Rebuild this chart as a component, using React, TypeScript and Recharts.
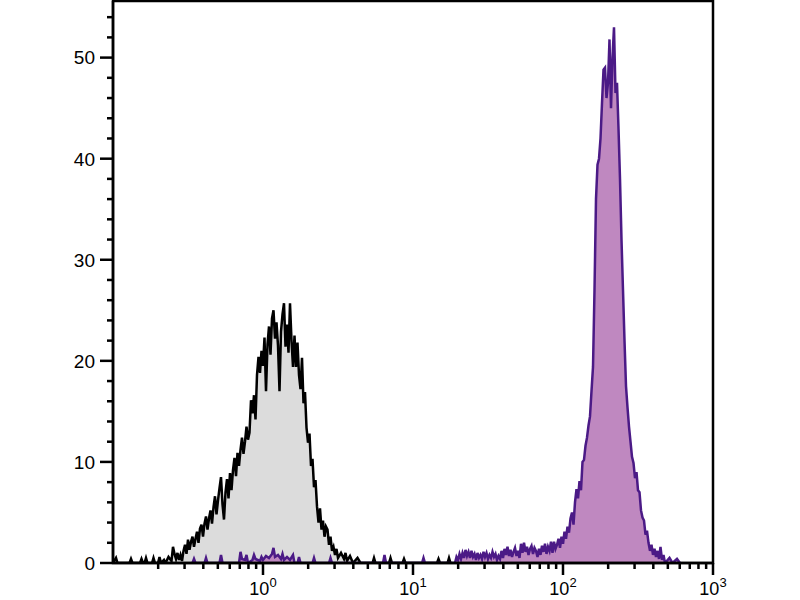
import React from 'react';
import { ComposedChart, Area, XAxis, YAxis, ReferenceArea } from 'recharts';

// gray (isotype control) histogram: log10 intensity and counts
const grayExp = [
  -1.0, -0.98, -0.97, -0.89, -0.88, -0.87, -0.82, -0.81, -0.8, -0.79,
  -0.78, -0.77, -0.74, -0.73, -0.72, -0.7, -0.69, -0.68, -0.66, -0.65,
  -0.63, -0.61, -0.6, -0.59, -0.58, -0.57, -0.56, -0.55, -0.54, -0.53,
  -0.52, -0.51, -0.5, -0.49, -0.48, -0.47, -0.46, -0.45, -0.44, -0.43,
  -0.42, -0.41, -0.4, -0.39, -0.38, -0.37, -0.36, -0.35, -0.34, -0.33,
  -0.32, -0.31, -0.3, -0.29, -0.28, -0.27, -0.26, -0.25, -0.24, -0.23,
  -0.22, -0.21, -0.2, -0.19, -0.18, -0.17, -0.16, -0.15, -0.14, -0.13,
  -0.12, -0.11, -0.1, -0.09, -0.08, -0.07, -0.06, -0.05, -0.04, -0.03,
  -0.02, -0.01, 0.0, 0.01, 0.02, 0.03, 0.04, 0.05, 0.06, 0.07,
  0.08, 0.09, 0.1, 0.11, 0.12, 0.13, 0.14, 0.15, 0.16, 0.17,
  0.18, 0.19, 0.2, 0.21, 0.22, 0.23, 0.24, 0.25, 0.26, 0.27,
  0.28, 0.29, 0.3, 0.31, 0.32, 0.33, 0.34, 0.35, 0.36, 0.37,
  0.38, 0.39, 0.4, 0.41, 0.42, 0.43, 0.44, 0.45, 0.46, 0.47,
  0.48, 0.49, 0.5, 0.52, 0.54, 0.55, 0.56, 0.58, 0.6, 0.63,
  0.65, 0.73, 0.74, 0.75, 0.84, 0.85, 0.86, 0.93, 0.94, 0.95,
  1.16, 1.17, 1.18, 1.23, 1.24, 1.25,
];
const grayCount = [
  0, 0.5, 0, 0, 0.4, 0, 0, 0.4, 0, 0,
  0.5, 0, 0, 0.5, 0, 0, 0.6, 0, 0.3, 0,
  0.6, 0.2, 1.6, 0.9, 0.4, 1.0, 0.3, 0.8, 0.2, 1.2,
  1.8, 0.9, 2.3, 1.3, 2.1, 2.6, 1.6, 2.4, 3.1, 2.0,
  3.4, 3.8, 2.6, 3.9, 4.6, 3.3, 4.4, 5.2, 3.9, 5.5,
  6.6, 4.8, 6.2, 7.4, 8.5, 5.8, 4.3, 7.0, 8.3, 6.4,
  8.9, 7.2, 9.2, 10.4, 8.6, 10.9, 9.6, 11.2, 12.4, 10.8,
  12.0, 13.5, 12.2, 12.9, 16.1, 14.8, 16.6, 14.2, 18.6, 20.4,
  18.8, 21.0, 19.5, 22.3, 17.0, 21.6, 23.4, 20.6, 24.2, 25.0,
  22.2, 23.8, 21.5, 17.0, 22.9, 24.6, 25.7, 21.4, 23.6, 20.8,
  25.7, 22.0, 19.4, 22.5, 19.4, 21.8, 18.6, 17.2, 20.3, 15.8,
  16.9, 13.4, 11.9, 12.8, 9.6, 10.3, 7.5, 8.2, 5.6, 4.0,
  5.4, 3.3, 4.2, 2.6, 3.6, 3.3, 1.8, 2.6, 1.2, 1.6,
  0.8, 1.4, 0.5, 1.0, 0.4, 1.0, 0.2, 0.7, 0, 0.5,
  0, 0, 0.5, 0, 0, 0.5, 0, 0, 0.4, 0,
  0, 0.4, 0, 0, 0.5, 0,
];

// purple (stained) histogram
const purpleExp = [
  -0.47, -0.46, -0.45, -0.39, -0.38, -0.37, -0.29, -0.28, -0.27, -0.16,
  -0.15, -0.14, -0.12, -0.11, -0.1, -0.07, -0.06, -0.05, -0.02, -0.01,
  0.0, 0.02, 0.04, 0.06, 0.07, 0.08, 0.1, 0.12, 0.13, 0.14,
  0.16, 0.18, 0.2, 0.21, 0.23, 0.24, 0.25, 0.26, 0.33, 0.34,
  0.35, 0.44, 0.45, 0.46, 0.8, 0.81, 0.82, 1.06, 1.07, 1.08,
  1.28, 1.29, 1.3, 1.31, 1.32, 1.33, 1.34, 1.35, 1.36, 1.37,
  1.38, 1.39, 1.4, 1.41, 1.42, 1.43, 1.44, 1.45, 1.46, 1.47,
  1.48, 1.49, 1.5, 1.51, 1.52, 1.53, 1.54, 1.55, 1.56, 1.57,
  1.58, 1.59, 1.6, 1.61, 1.62, 1.63, 1.64, 1.65, 1.66, 1.67,
  1.68, 1.69, 1.7, 1.71, 1.72, 1.73, 1.74, 1.75, 1.76, 1.77,
  1.78, 1.79, 1.8, 1.81, 1.82, 1.83, 1.84, 1.85, 1.86, 1.87,
  1.88, 1.89, 1.9, 1.91, 1.92, 1.93, 1.94, 1.95, 1.96, 1.97,
  1.98, 1.99, 2.0, 2.01, 2.02, 2.03, 2.04, 2.05, 2.06, 2.07,
  2.08, 2.09, 2.1, 2.11, 2.12, 2.13, 2.14, 2.15, 2.16, 2.17,
  2.18, 2.19, 2.2, 2.21, 2.22, 2.23, 2.24, 2.25, 2.26, 2.27,
  2.28, 2.29, 2.3, 2.31, 2.32, 2.33, 2.34, 2.35, 2.36, 2.37,
  2.38, 2.39, 2.4, 2.41, 2.42, 2.43, 2.44, 2.45, 2.46, 2.47,
  2.48, 2.49, 2.5, 2.51, 2.52, 2.53, 2.54, 2.55, 2.56, 2.57,
  2.58, 2.59, 2.6, 2.61, 2.62, 2.63, 2.64, 2.65, 2.66, 2.67,
  2.68, 2.71, 2.73, 2.76, 2.78,
];
const purpleCount = [
  0, 0.4, 0, 0, 0.5, 0, 0, 0.8, 0, 0,
  1.1, 0.4, 0.3, 0.8, 0, 0.3, 0.8, 0.4, 0.2, 0.6,
  0.3, 0.7, 0.5, 0.9, 1.5, 0.6, 0.8, 0.4, 0.9, 0.3,
  0.6, 0.3, 0.8, 0, 0, 0.6, 0, 0, 0, 0.5,
  0, 0, 0.5, 0, 0, 0.8, 0, 0, 0.5, 0,
  0, 0.6, 0.3, 0.9, 0.4, 1.0, 0.5, 1.3, 0.7, 1.1,
  0.5, 1.2, 0.6, 0.9, 0.3, 1.0, 0.5, 0.8, 0.4, 1.1,
  0.6, 1.0, 0.4, 0.8, 0.5, 1.1, 0.6, 0.9, 0.3, 0.7,
  0.4, 1.2, 0.5, 1.4, 0.8, 1.6, 0.7, 1.3, 0.6, 1.1,
  1.5, 0.7, 1.2, 0.5, 1.9, 1.0, 2.0, 1.1, 1.6, 0.8,
  1.4, 1.7, 0.9, 1.5, 1.2, 0.6, 1.4, 0.8, 1.7, 1.1,
  1.9, 0.9, 1.6, 1.2, 2.1, 1.0, 2.1, 1.4, 1.8, 2.4,
  1.5, 2.6, 1.9, 3.1, 2.4, 3.6, 3.0, 4.4, 5.0, 3.8,
  6.0, 7.3, 6.4, 8.1, 7.2, 10.0, 10.2, 11.6, 12.4, 13.6,
  14.5, 17.0, 19.4, 27.0, 36.0, 39.4, 40.0, 42.0, 45.5, 48.8,
  49.0, 46.0, 47.5, 51.8, 45.0, 50.0, 53.0, 46.5, 47.5, 43.0,
  38.0, 32.0, 27.0, 22.0, 17.5, 15.4, 13.5, 12.0, 10.5, 9.9,
  8.4, 9.0, 7.2, 7.0, 5.2, 4.5, 4.2, 2.8, 3.2, 2.0,
  1.2, 1.8, 0.8, 1.4, 0.6, 1.2, 0.4, 1.6, 0.3, 0.8,
  0, 0.5, 0, 0.4, 0,
];

const decadeTicks = [1, 10, 100, 1000];
const decadeLabels = ['0', '1', '2', '3'];
const minorTicks = [
  0.2, 0.3, 0.4, 0.5, 0.6, 0.7, 0.8, 0.9,
  2, 3, 4, 5, 6, 7, 8, 9,
  20, 30, 40, 50, 60, 70, 80, 90,
  200, 300, 400, 500, 600, 700, 800, 900,
];
const yTicks = [0, 2, 4, 6, 8, 10, 12, 14, 16, 18, 20, 22, 24, 26, 28, 30, 32, 34, 36, 38, 40, 42, 44, 46, 48, 50, 52, 54];
const yLabelled = [0, 10, 20, 30, 40, 50];

const toRows = (exps: number[], counts: number[]) =>
  exps.map((e, i) => ({ x: Math.pow(10, e), count: counts[i] }));

const grayData = toRows(grayExp, grayCount);
const purpleData = toRows(purpleExp, purpleCount);

const FONT = '"Liberation Sans", Arial, sans-serif';

function XTick(props: any) {
  const { x, y, payload } = props;
  const i = decadeTicks.indexOf(payload.value);
  const major = i >= 0;
  return (
    <g>
      <line x1={x} x2={x} y1={y} y2={y + (major ? 12 : 6)} stroke="#000" strokeWidth={2.5} />
      {major && (
        <text x={x} y={y + 32} textAnchor="middle" fontSize={18} fontFamily={FONT} fill="#000">
          10
          <tspan dy={-8} fontSize={13}>
            {decadeLabels[i]}
          </tspan>
        </text>
      )}
    </g>
  );
}

function YTick(props: any) {
  const { x, y, payload } = props;
  const major = yLabelled.includes(payload.value);
  return (
    <g>
      <line x1={x - (major ? 13 : 6)} x2={x} y1={y} y2={y} stroke="#000" strokeWidth={2.5} />
      {major && (
        <text x={x - 18} y={y} dy="0.36em" textAnchor="end" fontSize={19} fontFamily={FONT} fill="#000">
          {payload.value}
        </text>
      )}
    </g>
  );
}

export default function App() {
  return (
    <div style={{ position: 'absolute', left: 0, top: 0, width: 800, height: 600, background: '#fff' }}>
      <ComposedChart width={800} height={600} margin={{ top: 1, right: 87, bottom: 0, left: 0 }}>
        <XAxis
          dataKey="x"
          type="number"
          scale="log"
          domain={[0.1, 1000]}
          allowDataOverflow
          ticks={[...minorTicks, ...decadeTicks]}
          interval={0}
          tick={(p: any) => <XTick {...p} />}
          tickLine={false}
          tickSize={0}
          tickMargin={0}
          height={37}
          axisLine={{ stroke: '#000', strokeWidth: 2.5 }}
        />
        <YAxis
          type="number"
          domain={[0, 55.6]}
          allowDataOverflow
          ticks={yTicks}
          interval={0}
          tick={(p: any) => <YTick {...p} />}
          tickLine={false}
          tickSize={0}
          tickMargin={0}
          width={113}
          axisLine={{ stroke: '#000', strokeWidth: 2.5 }}
        />
        <Area
          data={grayData}
          dataKey="count"
          type="linear"
          fill="#dcdcdc"
          fillOpacity={1}
          stroke="#000"
          strokeWidth={2.5}
          dot={false}
          activeDot={false}
          isAnimationActive={false}
        />
        <Area
          data={purpleData}
          dataKey="count"
          type="linear"
          fill="#bf88c0"
          fillOpacity={1}
          stroke="#4b1a86"
          strokeWidth={2.5}
          dot={false}
          activeDot={false}
          isAnimationActive={false}
        />
        <ReferenceArea x1={0.1} x2={1000} y1={0} y2={55.6} fill="none" stroke="#000" strokeWidth={2.5} />
      </ComposedChart>
    </div>
  );
}
